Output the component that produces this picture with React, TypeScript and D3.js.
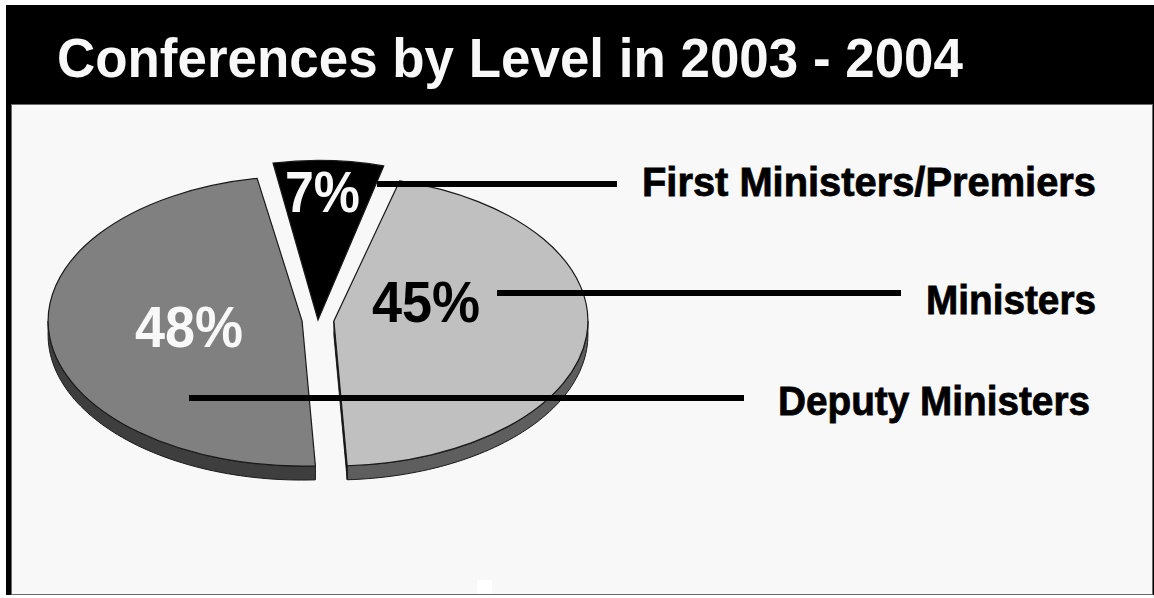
import React from 'react';
import * as d3 from 'd3';

const TITLE = 'Conferences by Level in 2003 - 2004';
const categories = ['First Ministers/Premiers', 'Ministers', 'Deputy Ministers'];
const values = [7, 45, 48];
const pctLabels = ['7%', '45%', '48%'];
const topColors = ['#000000', '#c0c0c0', '#808080'];
const sideColors = ['#000000', '#5e5e5e', '#3e3e3e'];
const pctColors = ['#f8f8f8', '#000000', '#f8f8f8'];

// layout
const W = 1154;
const H = 598;
const CX = 318;
const CY = 320;
const RX = 254;
const RY = 145;
const DEPTH = 14;
const START_DEG = -10.2;
const EXPLODE = [0, 16, 16];
const RY_SCALE = [1.1, 1, 1];
const SLICE_DEPTH = [0, DEPTH, DEPTH];

const PCT_POS = [
  { x: 285, y: 212, len: 75 },
  { x: 372, y: 322, len: 108 },
  { x: 135, y: 347, len: 108 },
];
const LEADERS = [
  { x1: 377, x2: 617, y: 184 },
  { x1: 497, x2: 901, y: 293 },
  { x1: 189, x2: 744, y: 398 },
];
const CAT_POS = [
  { x: 1096, y: 196, len: 454 },
  { x: 1096, y: 314, len: 170 },
  { x: 1090, y: 415, len: 312 },
];

export default function App() {
  const start = (START_DEG * Math.PI) / 180;
  const pie = d3
    .pie<number>()
    .sort(null)
    .value((d) => d)
    .startAngle(start)
    .endAngle(start + 2 * Math.PI);
  const arcs = pie(values);
  const arcGen = d3.arc<any>().innerRadius(0).outerRadius(RX);
  const line = d3.line<[number, number]>();

  const slices = arcs.map((a, i) => {
    const mid = (a.startAngle + a.endAngle) / 2;
    const ry = RY * RY_SCALE[i];
    const ox = CX + EXPLODE[i] * Math.sin(mid);
    const oy = CY - EXPLODE[i] * Math.cos(mid) * (RY / RX);
    const pt = (t: number, dy = 0): [number, number] => [
      ox + RX * Math.sin(t),
      oy - ry * Math.cos(t) + dy,
    ];
    const depth = SLICE_DEPTH[i];
    const parts: { d: string; fill: string }[] = [];
    if (depth > 0) {
      const lo = Math.max(a.startAngle, Math.PI / 2);
      const hi = Math.min(a.endAngle, (3 * Math.PI) / 2);
      if (hi > lo) {
        const ts = d3.range(61).map((k) => lo + ((hi - lo) * k) / 60);
        const pts = ts.map((t) => pt(t)).concat(ts.slice().reverse().map((t) => pt(t, depth)));
        parts.push({ d: line(pts) + 'Z', fill: sideColors[i] });
      }
      const faces = [
        { t: a.startAngle, ny: Math.sin(a.startAngle) },
        { t: a.endAngle, ny: -Math.sin(a.endAngle) },
      ];
      faces.forEach((f) => {
        if (-f.ny > 0.01) {
          const rim = pt(f.t);
          const pts: [number, number][] = [
            [ox, oy],
            rim,
            [rim[0], rim[1] + depth],
            [ox, oy + depth],
          ];
          parts.push({ d: line(pts) + 'Z', fill: '#000000' });
        }
      });
    }
    return { a, i, ox, oy, k: ry / RX, parts };
  });

  return (
    <svg
      width={W}
      height={H}
      viewBox={`0 0 ${W} ${H}`}
      style={{ position: 'absolute', left: 0, top: 0, display: 'block' }}
    >
      <rect x={0} y={0} width={W} height={H} fill="#ffffff" />
      <rect x={6} y={5} width={W - 6} height={590} fill="#000000" />
      <rect
        x={11.5}
        y={104.5}
        width={1141}
        height={490}
        fill="#f8f8f8"
        stroke="#6a6a6a"
        strokeWidth={1}
      />
      <rect x={477} y={580} width={15} height={14} fill="#ffffff" />
      <text
        x={57}
        y={77}
        fill="#f8f8f8"
        fontFamily="'Liberation Sans', Arial, Helvetica, sans-serif"
        fontWeight="bold"
        fontSize={55}
        textLength={906}
        lengthAdjust="spacingAndGlyphs"
      >
        {TITLE}
      </text>

      {slices.map((s) =>
        s.parts.map((p, j) => (
          <path key={`side-${s.i}-${j}`} d={p.d} fill={p.fill} stroke="#1a1a1a" strokeWidth={1} />
        ))
      )}
      {slices.map((s) => (
        <path
          key={`top-${s.i}`}
          d={arcGen(s.a) as string}
          transform={`translate(${s.ox},${s.oy}) scale(1,${s.k})`}
          fill={topColors[s.i]}
          stroke="#1a1a1a"
          strokeWidth={1.2}
          vectorEffect="non-scaling-stroke"
        />
      ))}

      {pctLabels.map((t, i) => (
        <text
          key={`pct-${i}`}
          x={PCT_POS[i].x}
          y={PCT_POS[i].y}
          fill={pctColors[i]}
          fontFamily="'Liberation Sans', Arial, Helvetica, sans-serif"
          fontWeight="bold"
          fontSize={58}
          textLength={PCT_POS[i].len}
          lengthAdjust="spacingAndGlyphs"
        >
          {t}
        </text>
      ))}

      {LEADERS.map((l, i) => (
        <line key={`ld-${i}`} x1={l.x1} x2={l.x2} y1={l.y} y2={l.y} stroke="#000" strokeWidth={6} />
      ))}

      {categories.map((c, i) => (
        <text
          key={`cat-${i}`}
          x={CAT_POS[i].x}
          y={CAT_POS[i].y}
          textAnchor="end"
          fill="#000"
          stroke="#000"
          strokeWidth={0.8}
          fontFamily="'Liberation Sans Narrow', 'Liberation Sans', Arial, sans-serif"
          fontWeight="bold"
          fontSize={41}
          textLength={CAT_POS[i].len}
          lengthAdjust="spacingAndGlyphs"
        >
          {c}
        </text>
      ))}
    </svg>
  );
}
